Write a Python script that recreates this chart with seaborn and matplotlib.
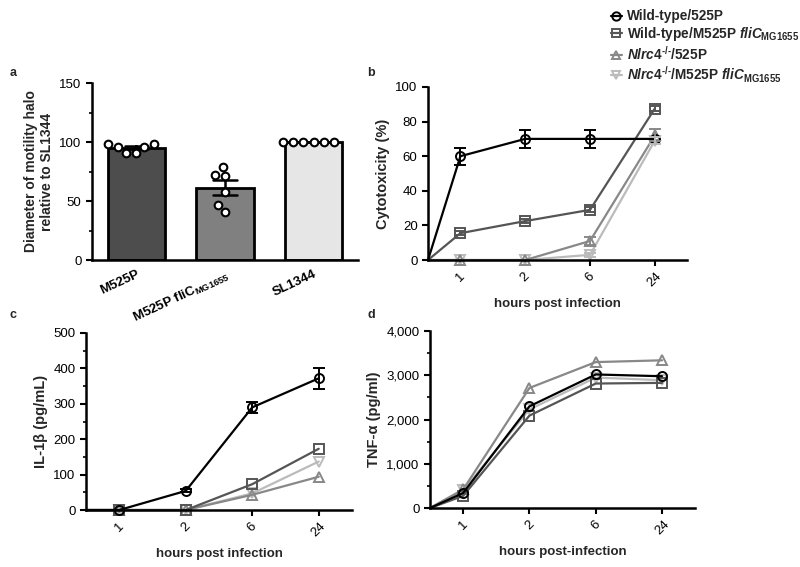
import numpy as np
import pandas as pd
import matplotlib
matplotlib.use('Agg')
import matplotlib.pyplot as plt
from matplotlib.lines import Line2D
from matplotlib.ticker import MultipleLocator, FuncFormatter
import seaborn as sns

# ---- data ----
# panel a: motility halo, individual replicates
motility_groups = ['M525P', 'M525P fliC', 'SL1344']
motility_m525p = [98, 91, 96, 98, 91, 96]
motility_flic = [79, 72, 71, 58, 41, 47]
motility_sl1344 = [100, 100, 100, 100, 100, 100]
motility_ticklabels = ['M525P', 'M525P fliC$_{\\mathrm{MG1655}}$', 'SL1344']
bar_colors = ['#4d4d4d', '#808080', '#e6e6e6']

# panels b-d: time course (first value is the t=0 origin)
hours = ['1', '2', '6', '24']
strains = ['WT/525P', 'WT/M525P fliC', 'Nlrc4/525P', 'Nlrc4/M525P fliC']
strain_labels = ['Wild-type/525P',
                 'Wild-type/M525P $\\mathit{fliC}_{\\mathrm{MG1655}}$',
                 '$\\mathit{Nlrc4}^{\\text{-/-}}$/525P',
                 '$\\mathit{Nlrc4}^{\\text{-/-}}$/M525P $\\mathit{fliC}_{\\mathrm{MG1655}}$']
strain_colors = ['#000000', '#555555', '#888888', '#bbbbbb']
strain_markers = ['o', 's', '^', 'v']

cyto_wt_525p = [0, 60, 70, 70, 70]
cyto_wt_flic = [0, 15.5, 22.5, 29, 87.5]
cyto_nlrc4_525p = [0, 0, 0, 11, 72]
cyto_nlrc4_flic = [0, 0, 0, 3, 69]
cyto_sem_wt_525p = [0, 5, 5, 5, 0]
cyto_sem_wt_flic = [0, 1, 1, 1.5, 1.5]
cyto_sem_nlrc4_525p = [0, 0, 0, 2.5, 3.5]
cyto_sem_nlrc4_flic = [0, 0, 0, 1, 2]

il1b_wt_525p = [0, 0, 54, 290, 372]
il1b_wt_flic = [0, 0, 0, 73, 173]
il1b_nlrc4_525p = [0, 0, 0, 43, 94]
il1b_nlrc4_flic = [0, 0, 0, 47, 137]
il1b_sem_wt_525p = [0, 0, 4, 15, 30]

tnf_wt_525p = [0, 340, 2300, 3020, 2980]
tnf_wt_flic = [0, 275, 2090, 2815, 2830]
tnf_nlrc4_525p = [0, 420, 2715, 3300, 3340]
tnf_nlrc4_flic = [0, 400, 2230, 2950, 2890]

# x positions: origin sits half a step before the first time point
xpos = [0.5, 1, 2, 3, 4]


def long_df(series):
    rows = []
    for strain, vals in zip(strains, series):
        for x, v in zip(xpos, vals):
            rows.append({'x': x, 'value': v, 'strain': strain})
    return pd.DataFrame(rows)


sns.set_style('ticks')
plt.rcParams['font.family'] = ['Liberation Sans', 'DejaVu Sans']
plt.rcParams['mathtext.fontset'] = 'custom'
plt.rcParams['mathtext.rm'] = 'Liberation Sans:bold'
plt.rcParams['mathtext.it'] = 'Liberation Sans:bold:italic'
plt.rcParams['mathtext.bf'] = 'Liberation Sans:bold'
plt.rcParams['mathtext.sf'] = 'Liberation Sans:bold'
plt.rcParams['axes.linewidth'] = 1.8
plt.rcParams['xtick.major.width'] = 1.5
plt.rcParams['ytick.major.width'] = 1.5
plt.rcParams['ytick.minor.width'] = 1.2
plt.rcParams['xtick.major.size'] = 4
plt.rcParams['ytick.major.size'] = 4
plt.rcParams['ytick.minor.size'] = 2.5
plt.rcParams['xtick.color'] = 'black'
plt.rcParams['ytick.color'] = 'black'
plt.rcParams['axes.edgecolor'] = 'black'

fig = plt.figure(figsize=(8, 5.67), dpi=100)

# ---- panel a ----
ax_a = fig.add_axes([0.115, 0.5414, 0.3325, 0.3122])
bar_df = pd.DataFrame({
    'group': np.repeat(motility_groups, 6),
    'value': motility_m525p + motility_flic + motility_sl1344,
})
sns.barplot(data=bar_df, x='group', y='value', hue='group', palette=bar_colors,
            width=0.65, edgecolor='black', linewidth=2, errorbar='se',
            capsize=0.26, err_kws={'color': 'black', 'linewidth': 1.8},
            legend=False, ax=ax_a)
sns.swarmplot(data=bar_df, x='group', y='value', color='white', edgecolor='black',
              linewidth=1.5, size=5.5, ax=ax_a)
ax_a.set_xlim(-0.5, 2.5)
ax_a.set_ylim(0, 150)
ax_a.yaxis.set_major_locator(MultipleLocator(50))
ax_a.yaxis.set_minor_locator(MultipleLocator(25))
ax_a.set_xticks(range(3))
ax_a.set_xticklabels(motility_ticklabels, rotation=25, ha='right',
                     rotation_mode='anchor', fontweight='bold', fontsize=9.5)
ax_a.tick_params(axis='x', length=0, pad=6)
ax_a.tick_params(axis='y', labelsize=9.5)
ax_a.set_xlabel('')
ax_a.set_ylabel('Diameter of motility halo\nrelative to SL1344',
                fontweight='bold', fontsize=10)
sns.despine(ax=ax_a)


def line_panel(rect, series, ylim, major, minor, ylabel, xlabel, sems=None, fmt=None):
    ax = fig.add_axes(rect)
    df = long_df(series)
    sns.lineplot(data=df, x='x', y='value', hue='strain', style='strain',
                 palette=dict(zip(strains, strain_colors)),
                 markers=dict(zip(strains, strain_markers)), dashes=False,
                 hue_order=strains[::-1], style_order=strains[::-1],
                 linewidth=1.6, markersize=6.5, legend=False, ax=ax)
    for line in ax.lines:
        c = line.get_color()
        line.set_markeredgecolor(c)
        line.set_markerfacecolor('none')
        line.set_markeredgewidth(1.4)
        line.set_markevery(list(range(1, 5)))
    if sems is not None:
        for vals, err, c in zip(series, sems, strain_colors):
            if err is None:
                continue
            keep = [i for i in range(1, 5) if err[i] > 0]
            ax.errorbar([xpos[i] for i in keep], [vals[i] for i in keep],
                        yerr=[err[i] for i in keep], fmt='none', ecolor=c,
                        elinewidth=1.4, capsize=4, capthick=1.4)
    ax.set_xlim(0.5, 4.5)
    ax.set_ylim(*ylim)
    ax.set_xticks([1, 2, 3, 4])
    ax.set_xticklabels(hours, rotation=45, fontsize=9.5)
    ax.yaxis.set_major_locator(MultipleLocator(major))
    if minor:
        ax.yaxis.set_minor_locator(MultipleLocator(minor))
    if fmt:
        ax.yaxis.set_major_formatter(FuncFormatter(fmt))
    ax.tick_params(axis='y', labelsize=9.5)
    ax.set_xlabel(xlabel, fontweight='bold', fontsize=9.5, labelpad=6)
    ax.set_ylabel(ylabel, fontweight='bold', fontsize=10.5)
    ax.margins(x=0)
    for ln in ax.lines:
        ln.set_clip_on(False)
    sns.despine(ax=ax)
    return ax


# ---- panel b ----
line_panel([0.535, 0.5414, 0.324, 0.3052],
           [cyto_wt_525p, cyto_wt_flic, cyto_nlrc4_525p, cyto_nlrc4_flic],
           (0, 100), 20, None, 'Cytotoxicity (%)', 'hours post infection',
           sems=[cyto_sem_wt_525p, cyto_sem_wt_flic, cyto_sem_nlrc4_525p, cyto_sem_nlrc4_flic])

# ---- panel c ----
line_panel([0.1075, 0.1005, 0.3325, 0.3122],
           [il1b_wt_525p, il1b_wt_flic, il1b_nlrc4_525p, il1b_nlrc4_flic],
           (0, 500), 100, 50, 'IL-1β (pg/mL)', 'hours post infection',
           sems=[il1b_sem_wt_525p, None, None, None])

# ---- panel d ----
line_panel([0.5375, 0.104, 0.3315, 0.312],
           [tnf_wt_525p, tnf_wt_flic, tnf_nlrc4_525p, tnf_nlrc4_flic],
           (0, 4000), 1000, 500, 'TNF-α (pg/ml)', 'hours post-infection',
           fmt=lambda v, p: f'{int(v):,}')

# panel letters
for letter, (x, y) in zip('abcd', [(0.012, 0.872), (0.459, 0.872),
                                   (0.012, 0.445), (0.459, 0.445)]):
    fig.text(x, y, letter, fontsize=9, fontweight='bold', va='center')

# shared legend
handles = [Line2D([], [], color=c, marker=m, mfc='none', mec=c, mew=1.4,
                  markersize=6, linewidth=1.6)
           for c, m in zip(strain_colors, strain_markers)]
leg = fig.legend(handles, strain_labels, loc='upper left', bbox_to_anchor=(0.748, 1.005),
                 frameon=False, handlelength=0.8, handletextpad=0.4,
                 labelspacing=0.12, prop={'weight': 'bold', 'size': 9.8})

fig.savefig('out.png', dpi=100)
